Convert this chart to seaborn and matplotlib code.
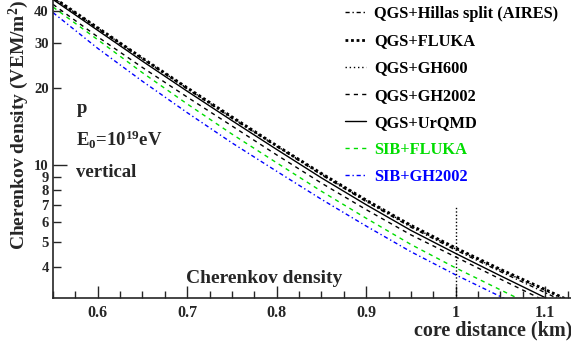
import numpy as np
import pandas as pd
import seaborn as sns
import matplotlib
matplotlib.use("Agg")
import matplotlib.pyplot as plt
from matplotlib.lines import Line2D

# core distance (km)
dist = [0.55, 0.60, 0.65, 0.70, 0.75, 0.80, 0.85, 0.90, 0.95, 1.00, 1.05, 1.10, 1.15]

# Cherenkov density (VEM/m^2)
qgs_hillas = [44.8, 34.0, 25.9, 19.8, 15.2, 11.8, 9.15, 7.2, 5.72, 4.66, 3.84, 3.18, 2.63]
qgs_fluka = [45.1, 34.3, 26.1, 20.0, 15.4, 11.9, 9.27, 7.3, 5.82, 4.75, 3.92, 3.27, 2.72]
qgs_gh600 = [44.9, 34.2, 26.0, 19.9, 15.3, 11.85, 9.22, 7.26, 5.78, 4.71, 3.89, 3.24, 2.69]
qgs_gh2002 = [42.3, 31.6, 24.0, 18.4, 14.2, 10.95, 8.5, 6.7, 5.34, 4.38, 3.59, 2.95, 2.44]
qgs_urqmd = [44.2, 33.5, 25.4, 19.4, 14.9, 11.5, 8.91, 7.0, 5.56, 4.52, 3.70, 3.04, 2.51]
sib_fluka = [41.3, 30.8, 22.9, 17.3, 13.2, 10.2, 7.9, 6.2, 4.9, 3.97, 3.26, 2.68, 2.2]
sib_gh2002 = [39.3, 28.5, 21.2, 16.0, 12.2, 9.45, 7.35, 5.78, 4.59, 3.73, 3.07, 2.52, 2.08]

labels = ["QGS+Hillas split (AIRES)", "QGS+FLUKA", "QGS+GH600", "QGS+GH2002",
          "QGS+UrQMD", "SIB+FLUKA", "SIB+GH2002"]
series = [qgs_hillas, qgs_fluka, qgs_gh600, qgs_gh2002, qgs_urqmd, sib_fluka, sib_gh2002]
colors = ["black", "black", "black", "black", "black", "#00dd00", "#0000ff"]
styles = [(0, (3, 2, 1, 2)), (0, (1, 1)), (0, (1, 2)), (0, (3, 3)), "-",
          (0, (3, 3)), (0, (3, 2, 1, 2))]
widths = [1.0, 2.0, 1.0, 1.0, 1.0, 1.0, 1.0]

ytick_major = [10]
ytick_minor = [4, 5, 6, 7, 8, 9, 20, 30, 40]
xticks = [0.6, 0.7, 0.8, 0.9, 1.0, 1.1]

sns.set_style("ticks")
plt.rcParams["font.family"] = ["Liberation Serif", "DejaVu Serif"]
plt.rcParams["font.weight"] = "bold"
plt.rcParams["mathtext.fontset"] = "custom"
plt.rcParams["mathtext.rm"] = "Liberation Serif:bold"
plt.rcParams["mathtext.bf"] = "Liberation Serif:bold"
plt.rcParams["mathtext.it"] = "Liberation Serif:bold"

fig = plt.figure(figsize=(5.71, 3.41), dpi=100)
ax = fig.add_axes([53 / 571, 43 / 341, 519 / 571, 298 / 341])

handles = []
for lab, vals, c, ls, lw in zip(labels, series, colors, styles, widths):
    df = pd.DataFrame({"x": dist, "y": vals})
    sns.lineplot(data=df, x="x", y="y", ax=ax, color=c, linestyle=ls, linewidth=lw)
    handles.append(Line2D([], [], color=c, linestyle=ls, linewidth=lw))

ax.vlines(1.0, 3.0, 6.9, colors="black", linestyles=(0, (1, 1.5)), linewidth=1)

ax.set_yscale("log")
ax.set_xlim(0.55, 1.13)
ax.set_ylim(3.03, 44)
ax.set_yticks(ytick_major)
ax.set_yticklabels([str(v) for v in ytick_major])
ax.set_yticks(ytick_minor, minor=True)
ax.set_yticklabels([str(v) for v in ytick_minor], minor=True)
ax.set_xticks(xticks)
ax.set_xticklabels(["0.6", "0.7", "0.8", "0.9", "1", "1.1"])
ax.set_xticks(np.arange(0.55, 1.13, 0.025), minor=True)
ax.tick_params(axis="both", which="both", direction="in", labelsize=11.5, width=1)
ax.tick_params(axis="y", which="both", labelsize=10.5)
ax.tick_params(axis="y", which="major", length=10, pad=3)
ax.tick_params(axis="y", which="minor", length=6, pad=3)
ax.tick_params(axis="x", which="major", length=9, pad=5)
ax.tick_params(axis="x", which="minor", length=5)
for t in ax.get_xticklabels() + ax.get_yticklabels() + ax.get_yticklabels(minor=True):
    t.set_fontweight("bold")

ax.set_xlabel("core distance (km)", fontsize=14.5, fontweight="bold", loc="right", labelpad=0)
ax.set_ylabel("Cherenkov density (VEM/m$^2$)", fontsize=14, fontweight="bold",
              loc="top", labelpad=2)

for sp in ["top", "right"]:
    ax.spines[sp].set_visible(False)
ax.spines["left"].set_linewidth(1.2)
ax.spines["bottom"].set_linewidth(1.2)

ax.text(0.045, 0.62, "p", transform=ax.transAxes, fontsize=13.5, fontweight="bold")
ax.text(0.045, 0.51, "E$_0$=10$^{19}$eV", transform=ax.transAxes,
        fontsize=13.5, fontweight="bold")
ax.text(0.045, 0.405, "vertical", transform=ax.transAxes, fontsize=13.5, fontweight="bold")
ax.text(0.407, 0.05, "Cherenkov density", transform=ax.transAxes, fontsize=14,
        fontweight="bold", ha="center")

leg = ax.legend(handles, labels, loc="upper left", bbox_to_anchor=(330 / 571, 1.025),
                bbox_transform=fig.transFigure, frameon=False,
                handlelength=1.3, handletextpad=0.5, labelspacing=0.68,
                prop={"weight": "bold", "size": 11.8})
for txt, c in zip(leg.get_texts(), colors):
    txt.set_color(c)

fig.savefig("out.png", dpi=100)
